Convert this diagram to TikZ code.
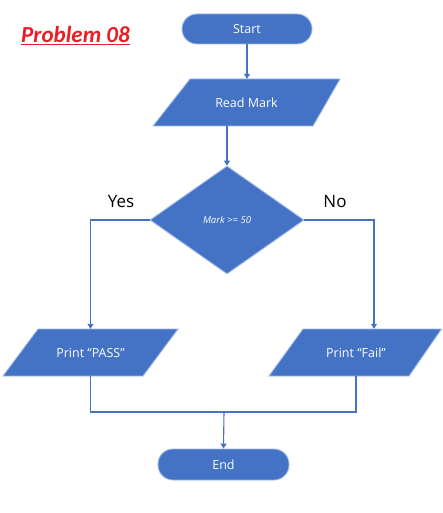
\documentclass[tikz,border=0pt]{standalone}
\usepackage{fontspec}
\setmainfont{Open Sans}
\newfontfamily\titlefont{Carlito}
\usetikzlibrary{shapes.geometric,arrows.meta}
\definecolor{obl}{RGB}{68,114,196}
\definecolor{oedge}{RGB}{160,185,230}
\tikzset{
  shp/.style={fill=obl,draw=oedge,line width=0.9pt},
  blk/.style={shp,text=white,font=\fontsize{12.5}{15}\selectfont,inner sep=0pt},
  term/.style={blk,rectangle,rounded corners=15pt,minimum width=130pt,minimum height=30pt},
  iotext/.style={rectangle,text=white,font=\fontsize{12.5}{15}\selectfont,inner sep=0pt,minimum width=140pt,minimum height=47pt},
  decbox/.style={blk,diamond,aspect=1.43,minimum width=154pt,minimum height=108pt,font=\fontsize{9.5}{11}\selectfont\itshape},
  conn/.style={draw=obl,line width=1.1pt},
  arr/.style={conn,-{Triangle[width=6pt,length=5pt]}},
  lab/.style={font=\fontsize{17}{20}\selectfont,text=black}
}
\begin{document}
\begin{tikzpicture}[x=1pt,y=-1pt]
\useasboundingbox (0,0) rectangle (442,513);
% parallelogram bodies
\draw[shp] (153,126) -- (313,126) -- (340,79) -- (190,79) -- cycle;
\draw[shp] (3,376) -- (143,376) -- (178,329) -- (38,329) -- cycle;
\draw[shp] (269,376) -- (409,376) -- (441.5,329) -- (303,329) -- cycle;
\node[font=\titlefont\bfseries\itshape\fontsize{23}{27}\selectfont,text={rgb,255:red,237;green,28;blue,36}] (title) at (75.5,36) {\underline{Problem 08}};
\node[term] (start) at (247,29) {Start};
\node[iotext] (read) at (246.5,102.5) {Read Mark};
\node[decbox] (dec) at (227,220) {Mark >= 50};
\node[iotext] (pass) at (90.5,352.5) {Print “PASS”};
\node[iotext] (fail) at (356,352.5) {Print “Fail”};
\node[term,minimum width=131pt,minimum height=31pt] (end) at (223.5,464.5) {End};
\node[lab] (yes) at (121,202) {Yes};
\node[lab] (no) at (335,202) {No};
\coordinate (failin) at ([xshift=18pt]fail.north);
\coordinate (m) at (224,412);
\draw[arr] (start.south) -- (start.south |- read.north);
\draw[arr] (dec.north |- read.south) -- (dec.north);
\draw[arr] (dec.west) -| (pass.north);
\draw[arr] (dec.east) -| (failin);
\draw[conn] (pass.south) |- (m) -| (fail.south);
\draw[arr] (m) -- (end.north);
\end{tikzpicture}
\end{document}
